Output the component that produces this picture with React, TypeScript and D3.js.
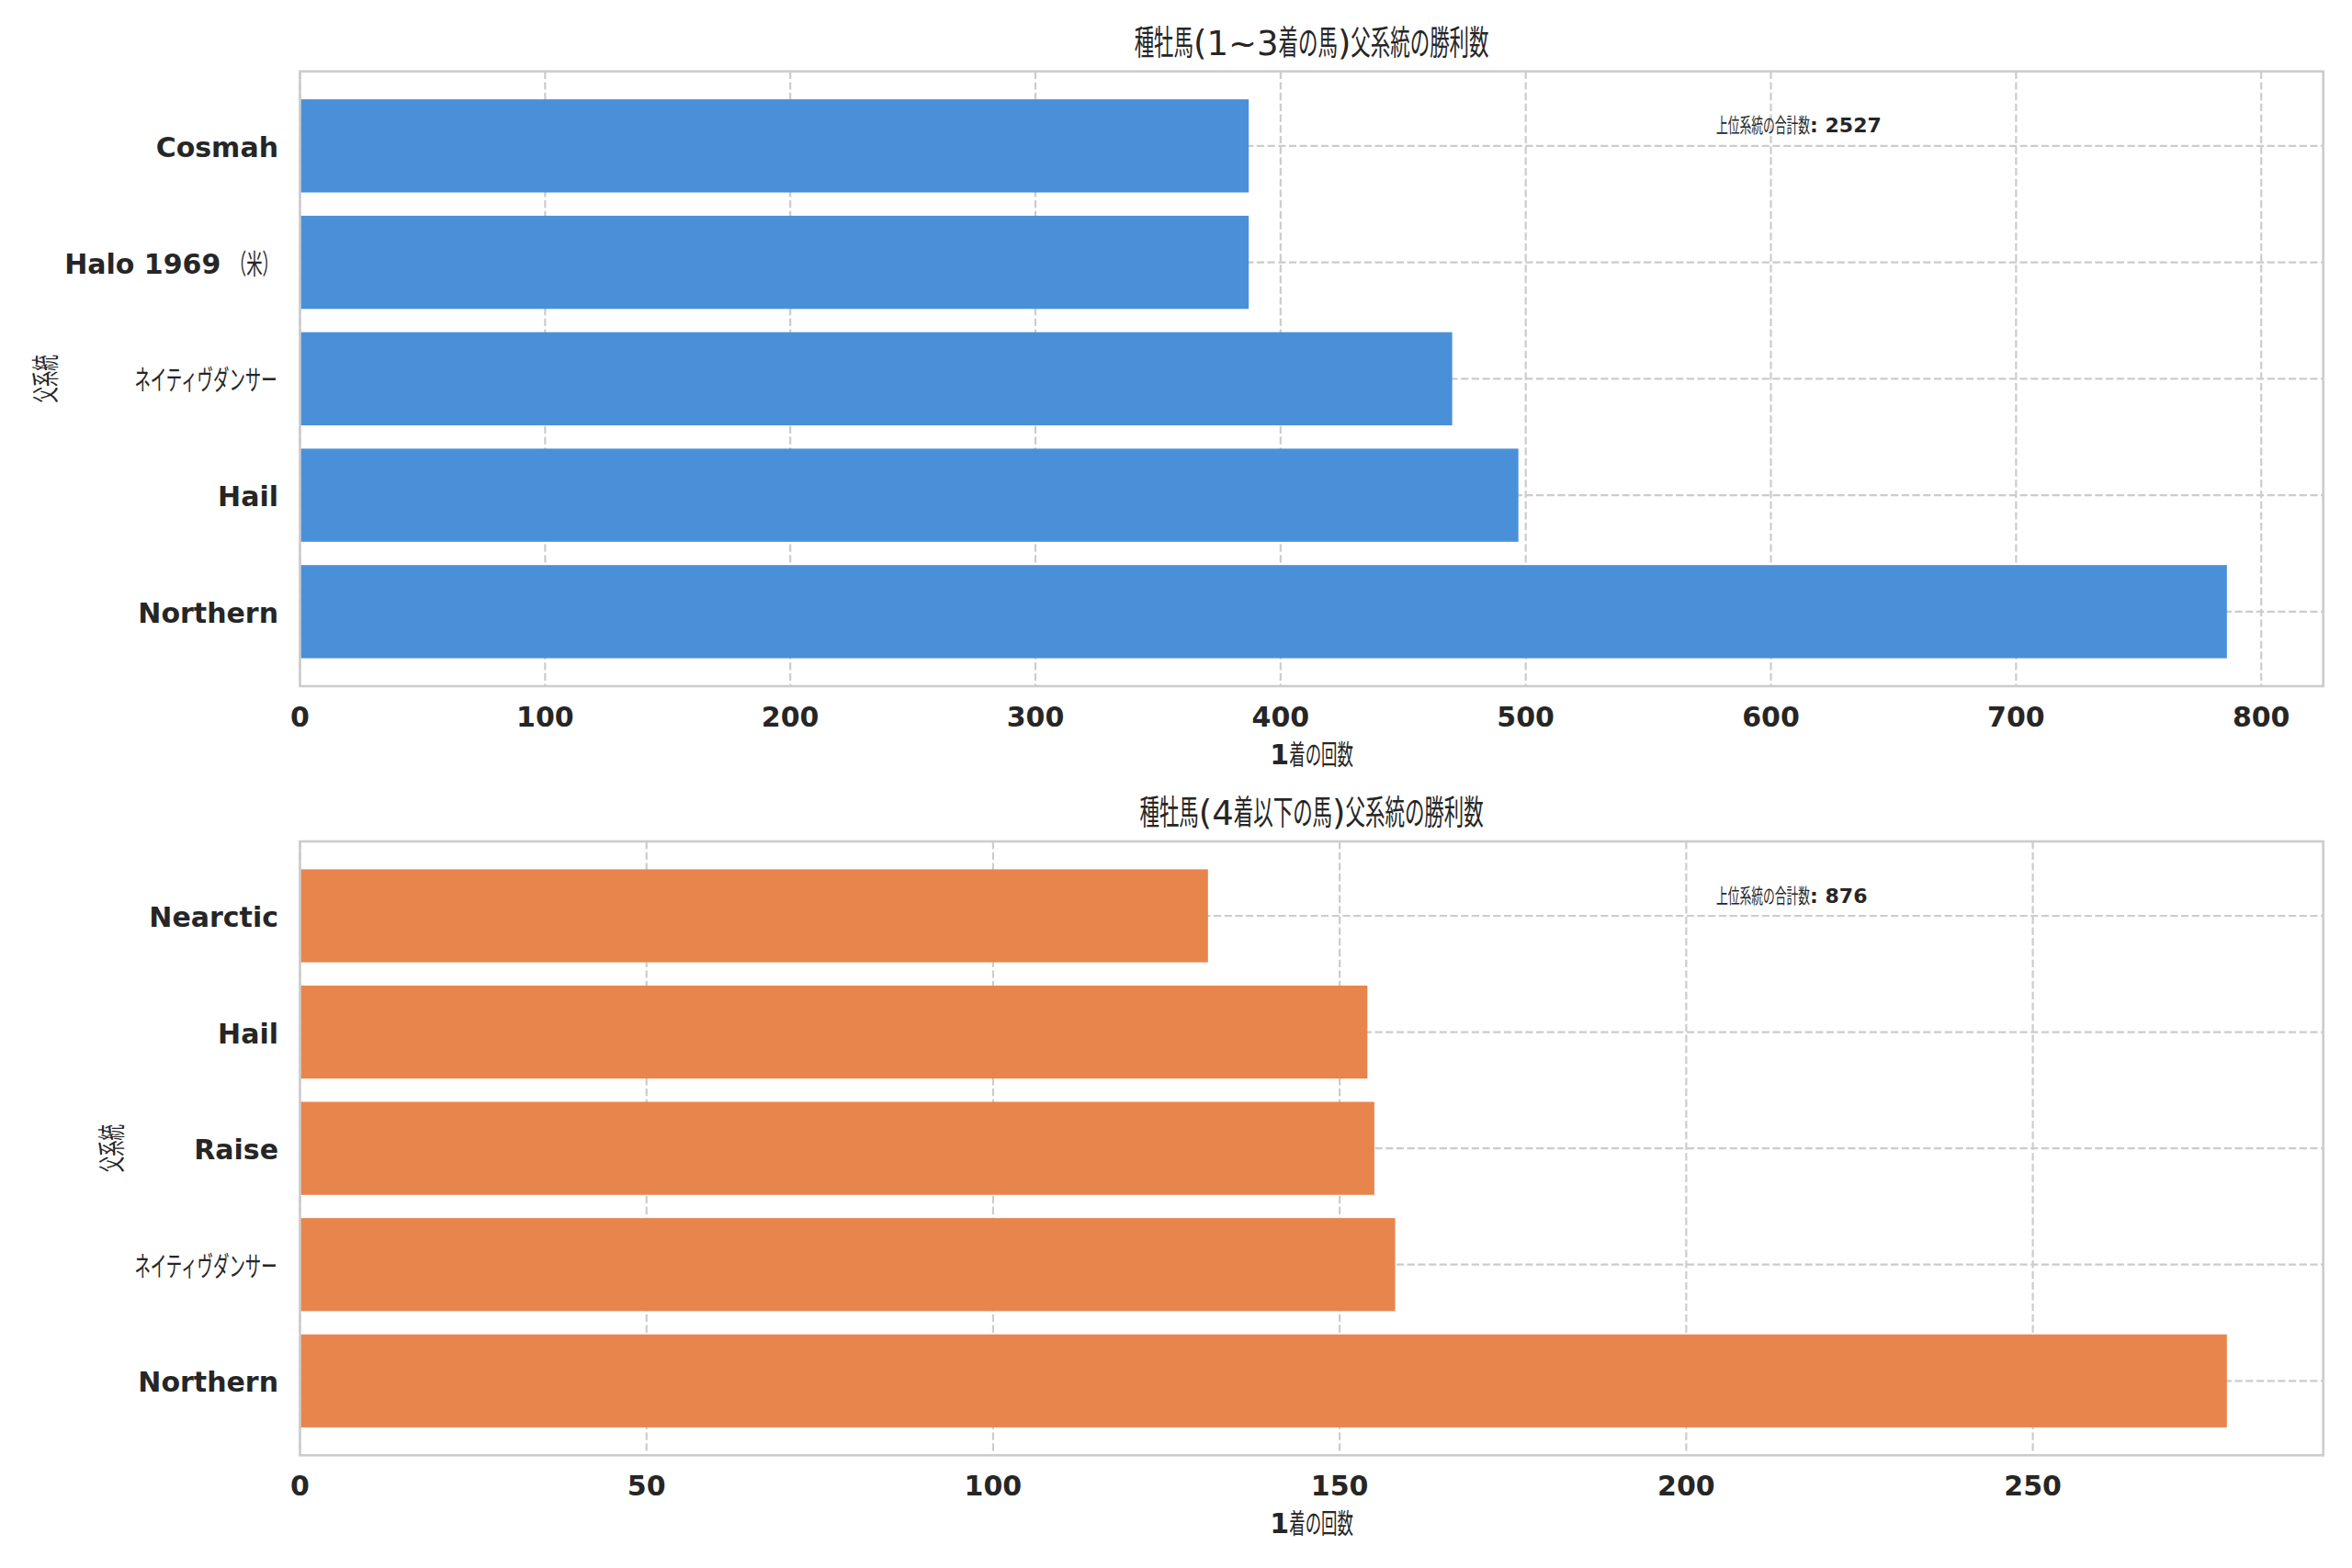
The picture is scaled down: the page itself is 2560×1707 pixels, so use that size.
import React from "react";
import * as d3 from "d3";

const topCategories = ["Northern", "Hail", "ネイティヴダンサー", "Halo 1969 （米）", "Cosmah"];
const topValues = [786, 497, 470, 387, 387];
const bottomCategories = ["Northern", "ネイティヴダンサー", "Raise", "Hail", "Nearctic"];
const bottomValues = [278, 158, 155, 154, 131];
const topTitle = "種牡馬(1~3着の馬)父系統の勝利数";
const bottomTitle = "種牡馬(4着以下の馬)父系統の勝利数";
const xLabelText = "1着の回数";
const yLabelText = "父系統";
const annotationLabel = "上位系統の合計数";

const W = 2560;
const H = 1707;
const FONT = "DejaVu Sans";
const CJK_FONT = "Noto Sans CJK JP, Noto Sans CJK SC, sans-serif";
const TXT = "#262626";
const CJK_RE = /[\u3000-\u9fff\uff00-\uffef]/;
const CJK_ADV = 0.58;

let measureCtx: CanvasRenderingContext2D | null = null;
function measure(t: string, size: number, weight: string, family: string) {
  if (!measureCtx) measureCtx = document.createElement("canvas").getContext("2d");
  if (!measureCtx) return t.length * size * 0.6;
  measureCtx.font = `${weight} ${size}px ${family}`;
  return measureCtx.measureText(t).width;
}

function runs(s: string) {
  const out: { t: string; cjk: boolean }[] = [];
  for (const ch of s) {
    const c = CJK_RE.test(ch);
    if (out.length && out[out.length - 1].cjk === c) out[out.length - 1].t += ch;
    else out.push({ t: ch, cjk: c });
  }
  return out.map((r) => ({ ...r, n: Array.from(r.t).length }));
}

function MixedText(props: {
  text: string;
  x: number;
  y: number;
  size: number;
  weight?: string;
  anchor?: "start" | "middle" | "end";
  transform?: string;
}) {
  const { text, x, y, size, weight = "normal", anchor = "start", transform } = props;
  const rs = runs(text).map((r) => {
    const natural = r.cjk ? measure(r.t, size, "normal", `"Noto Sans CJK JP"`) : measure(r.t, size, weight, `"${FONT}"`);
    const w = r.cjk ? r.n * CJK_ADV * size : natural;
    return { ...r, w, natural };
  });
  const total = d3.sum(rs, (r) => r.w);
  let pos = anchor === "start" ? x : anchor === "middle" ? x - total / 2 : x - total;
  const items = rs.map((r, i) => {
    const px = pos;
    pos += r.w;
    const label = r.t.replace(/\s+$/, "");
    if (!label) return null;
    if (r.cjk) {
      const sx = r.natural > 0 ? r.w / r.natural : CJK_ADV;
      return (
        <text
          key={i}
          transform={`translate(${px},${y}) scale(${sx},1)`}
          x={0}
          y={0}
          fontSize={size}
          fontFamily={CJK_FONT}
          fontWeight="normal"
          fill={TXT}
        >
          {label}
        </text>
      );
    }
    return (
      <text key={i} x={px} y={y} fontSize={size} fontFamily={FONT} fontWeight={weight} fill={TXT}>
        {label}
      </text>
    );
  });
  return <g transform={transform}>{items}</g>;
}

function Panel(props: {
  cats: string[];
  vals: number[];
  color: string;
  top: number;
  bottom: number;
  title: string;
  ylabelX: number;
}) {
  const { cats, vals, color, top, bottom, title, ylabelX } = props;
  const left = 326.5;
  const right = 2528.7;
  const maxV = d3.max(vals) as number;
  const x = d3.scaleLinear().domain([0, maxV * 1.05]).range([left, right]);
  const n = cats.length;
  const pad = (n - 1 + 0.8) * 0.05;
  const y = d3.scaleLinear().domain([-0.4 - pad, n - 1 + 0.4 + pad]).range([bottom, top]);
  const ticks = x.ticks(6);
  const total = d3.sum(vals);
  const cx = (left + right) / 2;
  const cy = (top + bottom) / 2;
  const gridStyle = { stroke: "#cccccc", strokeWidth: 2.2, strokeDasharray: "8.2 3.5" };
  return (
    <g>
      {ticks.map((t) => (
        <line key={"vg" + t} x1={x(t)} x2={x(t)} y1={top} y2={bottom} {...gridStyle} />
      ))}
      {cats.map((c, i) => (
        <line key={"hg" + i} x1={left} x2={right} y1={y(i)} y2={y(i)} {...gridStyle} />
      ))}
      {vals.map((v, i) => (
        <rect
          key={"b" + i}
          x={x(0)}
          y={y(i + 0.4)}
          width={x(v) - x(0)}
          height={y(i - 0.4) - y(i + 0.4)}
          fill={color}
        />
      ))}
      <rect
        x={left}
        y={top}
        width={right - left}
        height={bottom - top}
        fill="none"
        stroke="#cccccc"
        strokeWidth={2.6}
      />
      {ticks.map((t) => (
        <text
          key={"xt" + t}
          x={x(t)}
          y={bottom + 43.5}
          fontSize={30}
          fontFamily={FONT}
          fontWeight="bold"
          textAnchor="middle"
          fill={TXT}
        >
          {t}
        </text>
      ))}
      {cats.map((c, i) => (
        <MixedText key={"yt" + i} text={c} x={303} y={y(i) + 12} size={30} weight="bold" anchor="end" />
      ))}
      <MixedText text={title} x={cx} y={top - 18} size={37} anchor="middle" />
      <MixedText text={xLabelText} x={cx} y={bottom + 84.7} size={30} weight="bold" anchor="middle" />
      <MixedText
        text={yLabelText}
        x={0}
        y={0}
        size={30}
        weight="bold"
        anchor="middle"
        transform={`translate(${ylabelX},${cy}) rotate(-90)`}
      />
      <MixedText
        text={`${annotationLabel}: ${total}`}
        x={left + 0.7 * (right - left)}
        y={top + 66.6}
        size={22}
        weight="bold"
      />
    </g>
  );
}

export default function App() {
  return (
    <svg
      width={W}
      height={H}
      viewBox={`0 0 ${W} ${H}`}
      style={{ position: "absolute", left: 0, top: 0, background: "#ffffff" }}
    >
      <rect x={0} y={0} width={W} height={H} fill="#ffffff" />
      <Panel
        cats={topCategories}
        vals={topValues}
        color="#4a90d9"
        top={77.7}
        bottom={747}
        title={topTitle}
        ylabelX={60}
      />
      <Panel
        cats={bottomCategories}
        vals={bottomValues}
        color="#e8854d"
        top={916}
        bottom={1584.3}
        title={bottomTitle}
        ylabelX={132}
      />
    </svg>
  );
}
